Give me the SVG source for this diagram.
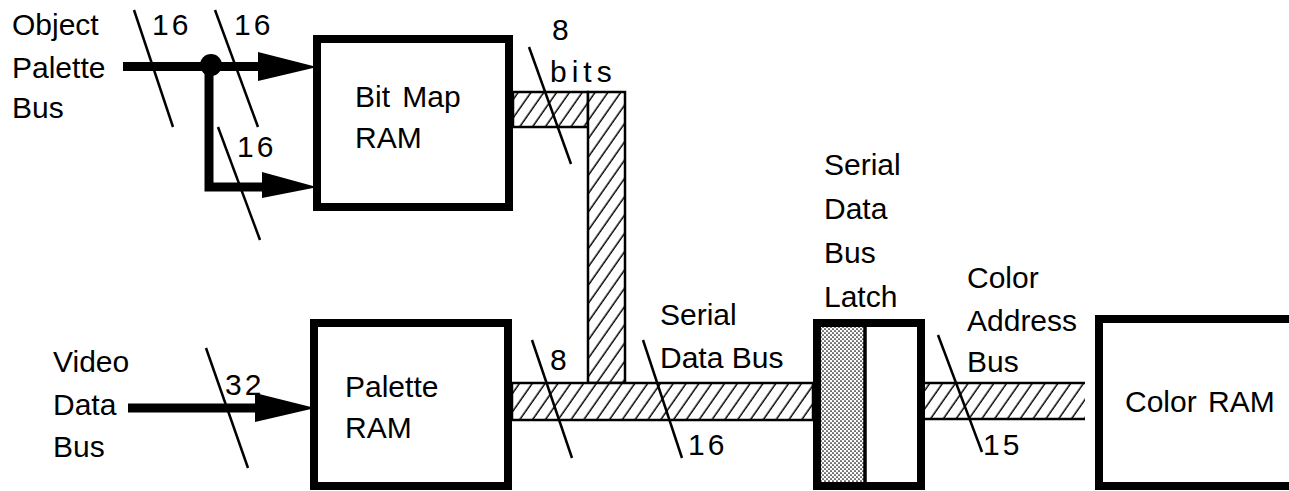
<svg xmlns="http://www.w3.org/2000/svg" width="1289" height="491" viewBox="0 0 1289 491">
<style>
text{font-family:"Liberation Sans",Arial,sans-serif;font-size:30px;fill:#000}
.num{letter-spacing:3px}
.box{fill:#fff;stroke:#000;stroke-width:8}
.bus{fill:url(#hatch);stroke:#000;stroke-width:2.5}
.edge{stroke:#000;stroke-width:2.5;fill:none}
.slash{stroke:#000;stroke-width:2.5;fill:none}
.wire{stroke:#000;stroke-width:9;fill:none}
.head{fill:#000}
</style>
<defs>
<pattern id="hatch" patternUnits="userSpaceOnUse" width="10.5" height="10" patternTransform="rotate(35)">
<rect width="10.5" height="10" fill="#fff"/>
<line x1="5" y1="-1" x2="5" y2="11" stroke="#000" stroke-width="1.5"/>
</pattern>
<pattern id="stipple" patternUnits="userSpaceOnUse" width="4" height="4">
<rect width="4" height="4" fill="#fff"/>
<circle cx="1" cy="1" r="0.85" fill="#000"/>
<circle cx="3" cy="3" r="0.85" fill="#000"/>
</pattern>
</defs>

<g id="connectors">
<!-- Object palette bus -->
<line class="wire" x1="123" y1="66.5" x2="262" y2="66.5"/>
<polyline class="wire" points="209,66 209,187 266,187"/>
<circle cx="211" cy="65" r="11" fill="#000"/>
<polygon class="head" points="258,52 313,66 313,68 258,81"/>
<polygon class="head" points="262,172 313,186 313,188 262,198"/>
<!-- Video data bus -->
<line class="wire" x1="128" y1="408" x2="258" y2="408"/>
<polygon class="head" points="255,393 311,407 311,409 255,422"/>
<!-- hatched buses -->
<rect class="bus" x="513" y="92" width="75" height="35"/>
<rect class="bus" x="588" y="92" width="37" height="291"/>
<rect class="bus" x="512" y="383" width="301" height="37"/>
<rect x="925" y="383" width="160" height="36" fill="url(#hatch)"/>
<line class="edge" x1="925" y1="383" x2="1085" y2="383"/>
<line class="edge" x1="925" y1="419" x2="1085" y2="419"/>
<!-- bus width slashes -->
<line class="slash" x1="134" y1="10" x2="173" y2="127"/>
<line class="slash" x1="215" y1="10" x2="258" y2="127"/>
<line class="slash" x1="218" y1="127" x2="260" y2="240"/>
<line class="slash" x1="529" y1="47" x2="571" y2="164"/>
<line class="slash" x1="206" y1="348" x2="248" y2="468"/>
<line class="slash" x1="532" y1="340" x2="572" y2="458"/>
<line class="slash" x1="643" y1="340" x2="682" y2="458"/>
<line class="slash" x1="938" y1="335" x2="982" y2="452"/>
<!-- bus labels -->
<text class="num" x="152" y="35">16</text>
<text class="num" x="234" y="35">16</text>
<text class="num" x="237" y="157">16</text>
<text x="552" y="40">8</text>
<text x="550" y="82" style="letter-spacing:5px">bits</text>
<text class="num" x="225" y="395">32</text>
<text x="550" y="370">8</text>
<text x="660" y="325">Serial</text>
<text x="660" y="368">Data Bus</text>
<text class="num" x="688" y="455">16</text>
<text x="967" y="288">Color</text>
<text x="967" y="331">Address</text>
<text x="967" y="372">Bus</text>
<text class="num" x="983" y="455">15</text>
</g>

<g id="object-palette-bus">
<text x="12" y="35">Object</text>
<text x="12" y="78">Palette</text>
<text x="12" y="118">Bus</text>
</g>

<g id="video-data-bus">
<text x="53" y="372">Video</text>
<text x="53" y="415">Data</text>
<text x="53" y="457">Bus</text>
</g>

<g id="bitmap-ram">
<rect class="box" x="317" y="39" width="192" height="168"/>
<text x="355" y="107" style="word-spacing:4px">Bit Map</text>
<text x="355" y="148">RAM</text>
</g>

<g id="palette-ram">
<rect class="box" x="314" y="323" width="194" height="163"/>
<text x="345" y="397">Palette</text>
<text x="345" y="438">RAM</text>
</g>

<g id="serial-data-bus-latch">
<rect x="820" y="326" width="44" height="157" fill="url(#stipple)"/>
<rect x="817" y="323" width="104" height="163" fill="none" stroke="#000" stroke-width="8"/>
<line x1="865" y1="323" x2="865" y2="486" stroke="#000" stroke-width="3.5"/>
<text x="824" y="175">Serial</text>
<text x="824" y="219">Data</text>
<text x="824" y="263">Bus</text>
<text x="824" y="307">Latch</text>
</g>

<g id="color-ram">
<rect class="box" x="1099" y="319" width="210" height="167"/>
<text x="1125" y="412" style="word-spacing:3px">Color RAM</text>
</g>
</svg>
